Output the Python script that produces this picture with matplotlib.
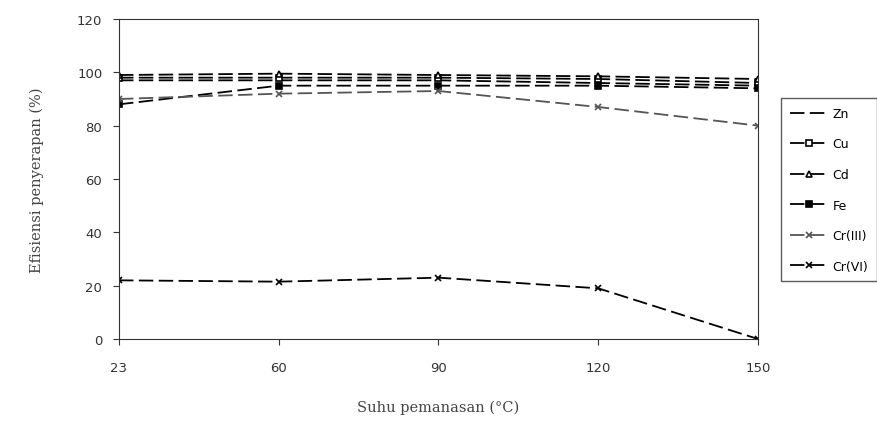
import matplotlib
matplotlib.use("Agg")
import matplotlib.pyplot as plt
import numpy as np

temps = ["23", "60", "90", "120", "150"]
zn = [97, 97, 97, 96, 95]
cu = [98, 98, 98, 97.5, 96]
cd = [99, 99.5, 99, 98.5, 97.5]
fe = [88, 95, 95, 95, 94]
cr3 = [90, 92, 93, 87, 80]
cr6 = [22, 21.5, 23, 19, 0]

series = [
    ("Zn", zn, dict(linestyle=(0, (8, 3)), marker=None)),
    ("Cu", cu, dict(linestyle=(0, (8, 3)), marker="s", markerfacecolor="white")),
    ("Cd", cd, dict(linestyle=(0, (8, 3)), marker="^", markerfacecolor="white")),
    ("Fe", fe, dict(linestyle=(0, (8, 3)), marker="s", markerfacecolor="black")),
    ("Cr(III)", cr3, dict(linestyle=(0, (8, 3)), marker="x", color="#555555")),
    ("Cr(VI)", cr6, dict(linestyle=(0, (8, 3)), marker="x")),
]

fig = plt.figure(figsize=(8.78, 4.31), dpi=100)
ax = fig.add_axes([119/878, 1-340/431, (758-119)/878, (340-20)/431])
x = np.arange(len(temps))
for name, vals, st in series:
    kw = dict(color="black", linewidth=1.3, markersize=5, markeredgewidth=1.2)
    kw.update(st)
    ax.plot(x, vals, label=name, **kw)

ax.set_xlim(0, 4)
ax.set_ylim(0, 120)
ax.set_xticks(x)
ax.set_xticklabels(temps)
ax.set_yticks(np.arange(0, 121, 20))
ax.tick_params(labelsize=9.5, colors="#333333", length=4)
ax.tick_params(axis="x", pad=12)
ax.tick_params(axis="y", pad=8)
for s in ax.spines.values():
    s.set_color("#333333")
ax.set_ylabel("Efisiensi penyerapan (%)", family="DejaVu Serif", fontsize=10.5, color="#444444", labelpad=24)
ax.set_xlabel("Suhu pemanasan (°C)", family="DejaVu Serif", fontsize=10.5, color="#444444", labelpad=18)

leg = fig.legend(loc="upper left", bbox_to_anchor=(775/878, 1-93/431), frameon=True,
                 fontsize=9, labelspacing=1.4, handlelength=3.0, borderpad=0.7,
                 handletextpad=0.4, fancybox=False, edgecolor="#333333")
fig.savefig("out.png", dpi=100)
